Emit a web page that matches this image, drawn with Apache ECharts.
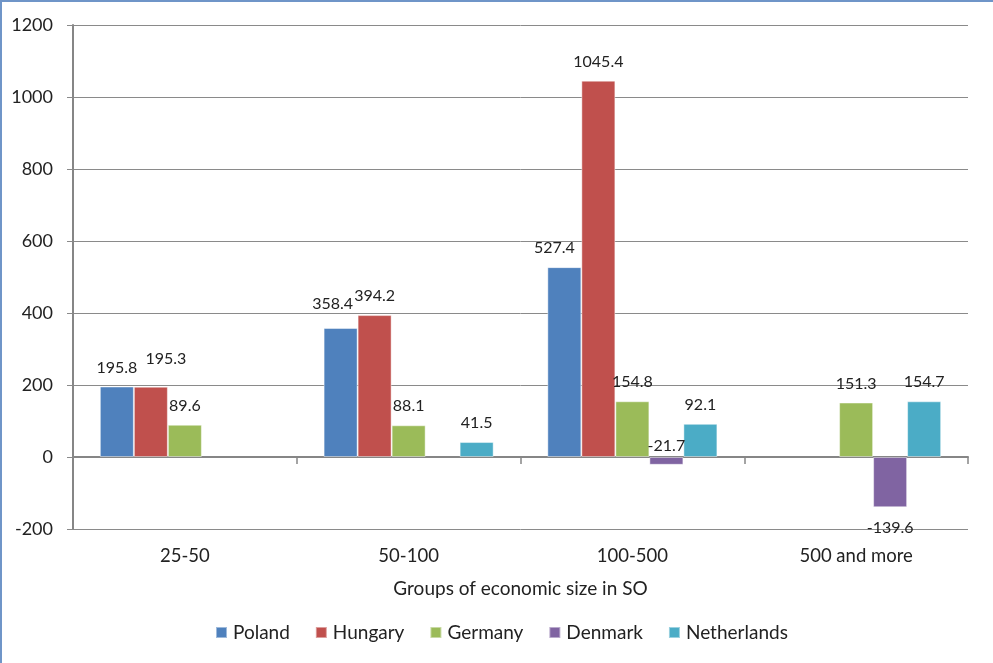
<!DOCTYPE html>
<html>
<head>
<meta charset="utf-8">
<title>Groups of economic size in SO</title>
<script src="https://cdn.jsdelivr.net/npm/echarts@6/dist/echarts.min.js"></script>
<style>
  html, body { margin: 0; padding: 0; background: #ffffff; }
  #chart { width: 993px; height: 663px; }
</style>
</head>
<body>
<div id="chart"></div>
<script>
// Economic size groups (SO) and values per country
const categories = ['25-50', '50-100', '100-500', '500 and more'];
const poland      = [195.8, 358.4, 527.4, null];
const hungary     = [195.3, 394.2, 1045.4, null];
const germany     = [89.6, 88.1, 154.8, 151.3];
const denmark     = [null, null, -21.7, -139.6];
const netherlands = [null, 41.5, 92.1, 154.7];

const yTicks = { min: -200, max: 1200, step: 200 };

const FONT = 'Lato, "Noto Sans", sans-serif';
const TEXT = '#222222';
const GRID_LINE = '#8a8a8a';

const seriesDefs = [
  { name: 'Poland',      values: poland,      color: '#4F81BD' },
  { name: 'Hungary',     values: hungary,     color: '#C0504D' },
  { name: 'Germany',     values: germany,     color: '#9BBB59' },
  { name: 'Denmark',     values: denmark,     color: '#8064A2' },
  { name: 'Netherlands', values: netherlands, color: '#4BACC6' }
];

// Individual label nudges where labels would collide
const labelTweaks = {
  Poland:  { 1: { offset: [-8, -5] }, 2: { offset: [-10, 0] } },
  Hungary: { 0: { offset: [15, -9] } },
  Denmark: { 2: { position: 'top', distance: 3 }, 3: { position: 'bottom', distance: 13 } }
};

function buildData(def) {
  const tweaks = labelTweaks[def.name] || {};
  return def.values.map((v, i) => {
    if (v === null) return '-';
    const item = { value: v };
    if (tweaks[i]) item.label = tweaks[i];
    return item;
  });
}

const chart = echarts.init(document.getElementById('chart'), null, { renderer: 'canvas' });

chart.setOption({
  animation: false,
  backgroundColor: '#ffffff',
  textStyle: { fontFamily: FONT },
  grid: { left: 73, right: 25, top: 25, bottom: 134, containLabel: false },
  legend: {
    left: 210,
    top: 618,
    icon: 'rect',
    itemWidth: 11,
    itemHeight: 11,
    itemGap: 25,
    textStyle: { fontFamily: FONT, fontSize: 19, color: TEXT, padding: [0, 0, 0, 1] },
    data: seriesDefs.map(d => d.name)
  },
  xAxis: [
    {
      type: 'category',
      data: categories,
      position: 'bottom',
      name: 'Groups of economic size in SO',
      nameLocation: 'middle',
      nameGap: 50,
      nameTextStyle: { fontFamily: FONT, fontSize: 19, color: TEXT },
      axisLine: { show: false, onZero: false },
      axisTick: { show: false },
      axisLabel: { fontFamily: FONT, fontSize: 18.5, color: TEXT, margin: 18 },
      splitLine: { show: false }
    },
    {
      type: 'category',
      data: categories,
      position: 'bottom',
      axisLine: { show: true, onZero: true, lineStyle: { color: '#868686', width: 2 } },
      axisTick: { show: true, length: 7, inside: false, lineStyle: { color: '#868686', width: 1.5 } },
      axisLabel: { show: false },
      splitLine: { show: false }
    }
  ],
  yAxis: {
    type: 'value',
    min: yTicks.min,
    max: yTicks.max,
    interval: yTicks.step,
    axisLine: { show: true, lineStyle: { color: '#868686', width: 2 } },
    axisTick: { show: true, length: 6, lineStyle: { color: GRID_LINE, width: 1 } },
    axisLabel: { fontFamily: FONT, fontSize: 18, color: TEXT, margin: 20, formatter: v => String(v) },
    splitLine: { show: true, lineStyle: { color: GRID_LINE, width: 1 } }
  },
  series: seriesDefs.map(def => ({
    name: def.name,
    type: 'bar',
    xAxisIndex: 0,
    data: buildData(def),
    barGap: '0%',
    barCategoryGap: '24%',
    itemStyle: { color: def.color, borderColor: 'rgba(255,255,255,0.45)', borderWidth: 1 },
    label: {
      show: true,
      position: 'top',
      distance: 11,
      fontFamily: FONT,
      fontSize: 16,
      color: TEXT,
      formatter: p => p.value.toFixed(1)
    }
  })),
  graphic: [
    { type: 'line', silent: true, shape: { x1: 1, y1: 0, x2: 1, y2: 663 }, style: { stroke: '#6f95c8', lineWidth: 2 } },
    { type: 'line', silent: true, shape: { x1: 0, y1: 1, x2: 993, y2: 1 }, style: { stroke: '#6f95c8', lineWidth: 2 } }
  ]
});
</script>
</body>
</html>
